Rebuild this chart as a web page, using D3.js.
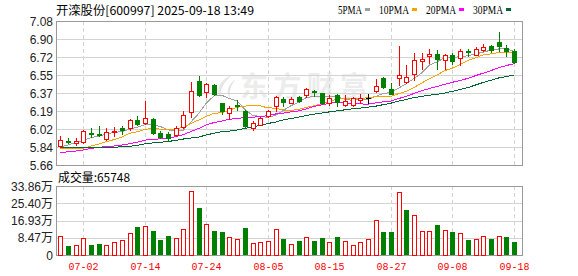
<!DOCTYPE html>
<html>
<head>
<meta charset="utf-8">
<script src="https://cdn.jsdelivr.net/npm/d3@7"></script>
<style>
    body { margin: 0; background: #fff; }
    svg { display: block; }
</style>
</head>
<body>
<svg id="chart" width="578" height="276"></svg>
<script>
'use strict';

// trading days shown (2025)
const dates = [
    '06-27', '06-30', '07-01', '07-02', '07-03', '07-04', '07-07', '07-08', '07-09', '07-10',
    '07-11', '07-14', '07-15', '07-16', '07-17', '07-18', '07-21', '07-22', '07-23', '07-24',
    '07-25', '07-28', '07-29', '07-30', '07-31', '08-01', '08-04', '08-05', '08-06', '08-07',
    '08-08', '08-11', '08-12', '08-13', '08-14', '08-15', '08-18', '08-19', '08-20', '08-21',
    '08-22', '08-25', '08-26', '08-27', '08-28', '08-29', '09-01', '09-02', '09-03', '09-04',
    '09-05', '09-08', '09-09', '09-10', '09-11', '09-12', '09-15', '09-16', '09-17', '09-18'
];

const open = [
    5.85, 5.90, 5.88, 5.89, 5.98, 5.97, 5.92, 5.99, 6.02, 6.02,
    6.10, 6.07, 6.11, 5.98, 5.97, 5.96, 6.03, 6.18, 6.49, 6.38,
    6.45, 6.27, 6.17, 6.25, 6.19, 6.02, 6.05, 6.14, 6.24, 6.31,
    6.27, 6.33, 6.35, 6.39, 6.37, 6.27, 6.35, 6.25, 6.25, 6.30,
    6.32, 6.39, 6.52, 6.41, 6.52, 6.48, 6.56, 6.69, 6.73, 6.75,
    6.70, 6.74, 6.72, 6.78, 6.74, 6.79, 6.83, 6.87, 6.81, 6.78
];
const high = [
    5.95, 5.93, 5.93, 6.01, 6.02, 6.04, 6.02, 6.03, 6.04, 6.11,
    6.14, 6.29, 6.12, 6.00, 5.99, 6.04, 6.19, 6.48, 6.54, 6.47,
    6.46, 6.27, 6.24, 6.30, 6.20, 6.09, 6.13, 6.20, 6.34, 6.33,
    6.33, 6.34, 6.42, 6.40, 6.37, 6.35, 6.36, 6.35, 6.33, 6.36,
    6.36, 6.51, 6.53, 6.47, 6.83, 6.65, 6.76, 6.76, 6.80, 6.79,
    6.75, 6.76, 6.80, 6.80, 6.82, 6.85, 6.84, 6.97, 6.84, 6.80
];
const low = [
    5.84, 5.88, 5.86, 5.88, 5.94, 5.95, 5.91, 5.95, 5.97, 6.01,
    6.05, 6.06, 5.97, 5.93, 5.91, 5.95, 6.02, 6.13, 6.34, 6.33,
    6.35, 6.16, 6.11, 6.20, 6.02, 6.01, 6.05, 6.13, 6.19, 6.24,
    6.27, 6.28, 6.33, 6.34, 6.26, 6.25, 6.24, 6.24, 6.24, 6.27,
    6.27, 6.38, 6.42, 6.36, 6.45, 6.47, 6.50, 6.61, 6.67, 6.61,
    6.61, 6.66, 6.65, 6.73, 6.74, 6.78, 6.77, 6.78, 6.73, 6.67
];
const close = [
    5.91, 5.89, 5.90, 6.00, 5.97, 5.96, 5.99, 6.00, 6.01, 6.10,
    6.06, 6.12, 5.98, 5.94, 5.93, 6.02, 6.15, 6.39, 6.35, 6.46,
    6.36, 6.19, 6.22, 6.24, 6.04, 6.07, 6.12, 6.19, 6.33, 6.28,
    6.31, 6.29, 6.41, 6.38, 6.27, 6.32, 6.28, 6.29, 6.32, 6.32,
    6.32, 6.44, 6.43, 6.36, 6.55, 6.53, 6.70, 6.71, 6.75, 6.71,
    6.74, 6.69, 6.78, 6.77, 6.80, 6.82, 6.79, 6.83, 6.78, 6.68
];
const volume = [
    93000, 45000, 48000, 83000, 50000, 55000, 48000, 65000, 73000, 110000,
    139000, 143000, 119000, 75000, 95000, 85000, 128000, 312000, 229000, 154000,
    119000, 115000, 88000, 78000, 134000, 58000, 65000, 70000, 128000, 78000,
    53000, 70000, 88000, 70000, 85000, 65000, 90000, 70000, 48000, 65000,
    78000, 173000, 114000, 114000, 307000, 219000, 194000, 118000, 118000, 149000,
    123000, 114000, 108000, 75000, 78000, 93000, 80000, 93000, 90000, 65748
];

// moving averages as drawn on the chart
const ma5 = [
    5.840, 5.857, 5.880, 5.900, 5.932, 5.944, 5.964, 5.984, 5.987, 6.012,
    6.032, 6.057, 6.055, 6.040, 6.006, 5.997, 6.004, 6.086, 6.168, 6.273,
    6.342, 6.348, 6.314, 6.292, 6.208, 6.151, 6.138, 6.131, 6.149, 6.198,
    6.245, 6.280, 6.325, 6.336, 6.332, 6.334, 6.334, 6.309, 6.296, 6.308,
    6.307, 6.336, 6.366, 6.375, 6.419, 6.462, 6.513, 6.569, 6.646, 6.677,
    6.720, 6.718, 6.731, 6.736, 6.756, 6.772, 6.794, 6.804, 6.806, 6.781
];
const ma10 = [
    5.820, 5.820, 5.820, 5.825, 5.847, 5.867, 5.890, 5.911, 5.936, 5.972,
    5.988, 6.011, 6.020, 6.014, 6.009, 6.015, 6.031, 6.071, 6.104, 6.140,
    6.170, 6.176, 6.200, 6.230, 6.241, 6.247, 6.243, 6.223, 6.221, 6.203,
    6.198, 6.209, 6.228, 6.243, 6.265, 6.290, 6.307, 6.317, 6.316, 6.320,
    6.321, 6.335, 6.338, 6.336, 6.364, 6.385, 6.425, 6.468, 6.511, 6.548,
    6.591, 6.616, 6.650, 6.691, 6.717, 6.746, 6.756, 6.768, 6.771, 6.769
];
const ma20 = [
    5.781, 5.790, 5.798, 5.808, 5.824, 5.835, 5.840, 5.847, 5.857, 5.870,
    5.885, 5.905, 5.913, 5.918, 5.923, 5.940, 5.960, 5.990, 6.020, 6.056,
    6.079, 6.094, 6.110, 6.122, 6.125, 6.131, 6.137, 6.147, 6.163, 6.172,
    6.184, 6.193, 6.214, 6.237, 6.253, 6.269, 6.275, 6.270, 6.269, 6.262,
    6.260, 6.272, 6.283, 6.290, 6.315, 6.338, 6.366, 6.393, 6.414, 6.434,
    6.456, 6.476, 6.494, 6.514, 6.541, 6.566, 6.591, 6.618, 6.641, 6.659
];
const ma30 = [
    5.831, 5.830, 5.830, 5.830, 5.832, 5.833, 5.834, 5.836, 5.839, 5.844,
    5.854, 5.869, 5.877, 5.884, 5.892, 5.902, 5.916, 5.926, 5.936, 5.956,
    5.974, 5.988, 5.995, 6.005, 6.020, 6.035, 6.050, 6.069, 6.084, 6.105,
    6.119, 6.132, 6.149, 6.162, 6.172, 6.184, 6.194, 6.204, 6.214, 6.221,
    6.230, 6.240, 6.255, 6.270, 6.290, 6.307, 6.325, 6.336, 6.349, 6.357,
    6.370, 6.387, 6.405, 6.423, 6.449, 6.474, 6.496, 6.518, 6.533, 6.546
];

const maNames = ['5PMA', '10PMA', '20PMA', '30PMA'];
const maColors = ['#a0a0a0', '#f5a300', '#ff00ff', '#006633'];

const priceTickLabels = ['5.66', '5.84', '6.02', '6.19', '6.37', '6.55', '6.72', '6.90', '7.08'];
const volTickLabels = ['0', '8.47万', '16.93万', '25.40万', '33.86万'];
const dateTicks = ['07-02', '07-14', '07-24', '08-05', '08-15', '08-27', '09-08', '09-18'];

const title = '开滦股份[600997] 2025-09-18 13:49';
const volTitle = '成交量:65748';

const PRICE_MIN = 5.66, PRICE_MAX = 7.08;
const VOL_MAX = 338600;

const RED = '#ff0000';
const GREEN = '#008000';
const GRID = '#d3d3d3';
const FRAME = '#999999';
const LABEL = '#222222';

const LEFT = 56, RIGHT = 522;
const P_TOP = 21, P_BOTTOM = 165;
const V_TOP = 186, V_BOTTOM = 255;

const svg = d3.select('#chart');

const x = d3.scalePoint().domain(dates).range([60.3, 514]);
const yPrice = d3.scaleLinear().domain([PRICE_MIN, PRICE_MAX]).range([P_BOTTOM, P_TOP]);
const yVol = d3.scaleLinear().domain([0, VOL_MAX]).range([V_BOTTOM, V_TOP]);

const px = (v) => Math.round(v) + 0.5;
const cx = (d) => Math.round(x(d));

// SimSun style widths: 12px for CJK, 6px for latin
function simWidth(s) {
    return Array.from(s).reduce((w, ch) => w + (ch.charCodeAt(0) > 255 ? 12 : 6), 0);
}

// ---- watermark
const wm = svg.append('g').attr('fill', '#ececec');
wm.append('path')
    .attr('d', 'M232,75 C220,80 214,90 222,98 C219,90 224,82 232,75 Z M236,79 C228,84 225,92 230,98 C229,91 231,85 236,79 Z')
    .attr('fill', '#e6e6e6');
wm.append('text')
    .attr('x', 240).attr('y', 97)
    .attr('textLength', 128).attr('lengthAdjust', 'spacing')
    .style('font', 'bold 28px "Noto Sans CJK SC"')
    .text('东方财富');

// ---- grids
const priceGridVals = d3.range(priceTickLabels.length)
    .map((i) => PRICE_MIN + i * (PRICE_MAX - PRICE_MIN) / (priceTickLabels.length - 1));
const volGridVals = d3.range(volTickLabels.length)
    .map((i) => i * VOL_MAX / (volTickLabels.length - 1));

const grid = svg.append('g').attr('stroke', GRID).attr('stroke-width', 1).attr('shape-rendering', 'crispEdges');
grid.selectAll('.hp').data(priceGridVals).enter().append('line')
    .attr('x1', LEFT).attr('x2', RIGHT)
    .attr('y1', (d) => px(yPrice(d))).attr('y2', (d) => px(yPrice(d)));
grid.selectAll('.hv').data(volGridVals).enter().append('line')
    .attr('x1', LEFT).attr('x2', RIGHT)
    .attr('y1', (d) => px(yVol(d))).attr('y2', (d) => px(yVol(d)));
[[P_TOP, P_BOTTOM], [V_TOP, V_BOTTOM]].forEach(([t, b]) => {
    grid.selectAll(null).data(dateTicks).enter().append('line')
        .attr('stroke-dasharray', '4,3')
        .attr('x1', (d) => cx(d) + 0.5).attr('x2', (d) => cx(d) + 0.5)
        .attr('y1', t).attr('y2', b);
});

// ---- frames
svg.append('rect').attr('x', LEFT + 0.5).attr('y', P_TOP + 0.5)
    .attr('width', RIGHT - LEFT).attr('height', P_BOTTOM - P_TOP)
    .attr('fill', 'none').attr('stroke', FRAME).attr('shape-rendering', 'crispEdges');
svg.append('rect').attr('x', LEFT + 0.5).attr('y', V_TOP + 0.5)
    .attr('width', RIGHT - LEFT).attr('height', V_BOTTOM - V_TOP)
    .attr('fill', 'none').attr('stroke', FRAME).attr('shape-rendering', 'crispEdges');

// ---- axis labels
svg.append('g').selectAll('text').data(priceGridVals).enter().append('text')
    .attr('x', 53).attr('y', (d) => yPrice(d) + 4.5)
    .attr('text-anchor', 'end').attr('fill', LABEL)
    .style('font', '12px "Liberation Sans", Arial, sans-serif')
    .text((d, i) => priceTickLabels[i]);
svg.append('g').selectAll('text').data(volGridVals).enter().append('text')
    .attr('x', 53).attr('y', (d) => yVol(d) + 4.5)
    .attr('text-anchor', 'end').attr('fill', LABEL)
    .style('font', '12px "Liberation Sans", "Noto Sans CJK SC", sans-serif')
    .text((d, i) => volTickLabels[i]);
svg.append('g').selectAll('text').data(dateTicks).enter().append('text')
    .attr('x', (d) => cx(d) + 0.5).attr('y', 270)
    .attr('text-anchor', 'middle').attr('fill', RED)
    .attr('textLength', (d) => simWidth(d)).attr('lengthAdjust', 'spacingAndGlyphs')
    .style('font', '11px "Liberation Mono", monospace')
    .text((d) => d);

// ---- title & legend
svg.append('text').attr('x', 56).attr('y', 15)
    .attr('textLength', simWidth(title)).attr('lengthAdjust', 'spacingAndGlyphs')
    .style('font', '12px "Noto Sans CJK SC", sans-serif').attr('fill', '#000')
    .text(title);
svg.append('text').attr('x', 58).attr('y', 182)
    .attr('textLength', simWidth(volTitle)).attr('lengthAdjust', 'spacingAndGlyphs')
    .style('font', '12px "Noto Sans CJK SC", sans-serif').attr('fill', '#000')
    .text(volTitle);

let lx = 338;
maNames.forEach((name, i) => {
    let w = simWidth(name);
    svg.append('text').attr('x', lx).attr('y', 13.5)
        .attr('textLength', w).attr('lengthAdjust', 'spacingAndGlyphs')
        .style('font', '12px "Liberation Serif", serif').attr('fill', '#000')
        .text(name);
    svg.append('rect').attr('x', lx + w + 3).attr('y', 8).attr('width', 5).attr('height', 3)
        .attr('fill', maColors[i]);
    lx += w + 3 + 5 + 9;
});

// ---- moving averages
const maLine = d3.line()
    .x((d, i) => x(dates[i]))
    .y((d) => yPrice(d));
[ma5, ma10, ma20, ma30].forEach((series, i) => {
    svg.append('path').datum(series)
        .attr('d', maLine)
        .attr('fill', 'none')
        .attr('stroke', maColors[i])
        .attr('stroke-width', 1)
        .attr('shape-rendering', 'crispEdges');
});

// ---- candles
const days = dates.map((d, i) => ({
    date: d, o: open[i], h: high[i], l: low[i], c: close[i], v: volume[i],
    prev: i > 0 ? close[i - 1] : open[i]
}));
const candleColor = (d) => d.c > d.o ? RED : (d.c < d.o ? GREEN : '#000');

const candles = svg.append('g').attr('shape-rendering', 'crispEdges')
    .selectAll('g').data(days).enter().append('g');

candles.append('line')
    .attr('x1', (d) => cx(d.date) + 0.5).attr('x2', (d) => cx(d.date) + 0.5)
    .attr('y1', (d) => Math.round(yPrice(d.h))).attr('y2', (d) => Math.round(yPrice(d.l)) + 1)
    .attr('stroke', candleColor);

candles.each(function(d) {
    let g = d3.select(this);
    let top = Math.round(yPrice(Math.max(d.o, d.c)));
    let bot = Math.round(yPrice(Math.min(d.o, d.c)));
    let c = cx(d.date);
    if (bot - top < 2) {
        g.append('rect').attr('x', c - 2).attr('y', top).attr('width', 5).attr('height', Math.max(1, bot - top + 1))
            .attr('fill', candleColor(d));
    } else if (d.c > d.o) {
        g.append('rect').attr('x', c - 1.5).attr('y', top + 0.5).attr('width', 4).attr('height', bot - top)
            .attr('fill', '#fff').attr('stroke', RED);
    } else {
        g.append('rect').attr('x', c - 2).attr('y', top).attr('width', 5).attr('height', bot - top + 1)
            .attr('fill', GREEN);
    }
});

// ---- volume bars
const volUp = (d) => d.c >= d.prev;
svg.append('g').attr('shape-rendering', 'crispEdges')
    .selectAll('rect').data(days).enter().append('rect')
    .attr('x', (d) => volUp(d) ? cx(d.date) - 1.5 : cx(d.date) - 2)
    .attr('y', (d) => Math.round(yVol(d.v)) + (volUp(d) ? 0.5 : 0))
    .attr('width', (d) => volUp(d) ? 4 : 5)
    .attr('height', (d) => V_BOTTOM - Math.round(yVol(d.v)) - (volUp(d) ? 0.5 : 0))
    .attr('fill', (d) => volUp(d) ? '#fff' : GREEN)
    .attr('stroke', (d) => volUp(d) ? RED : 'none');
</script>
</body>
</html>
